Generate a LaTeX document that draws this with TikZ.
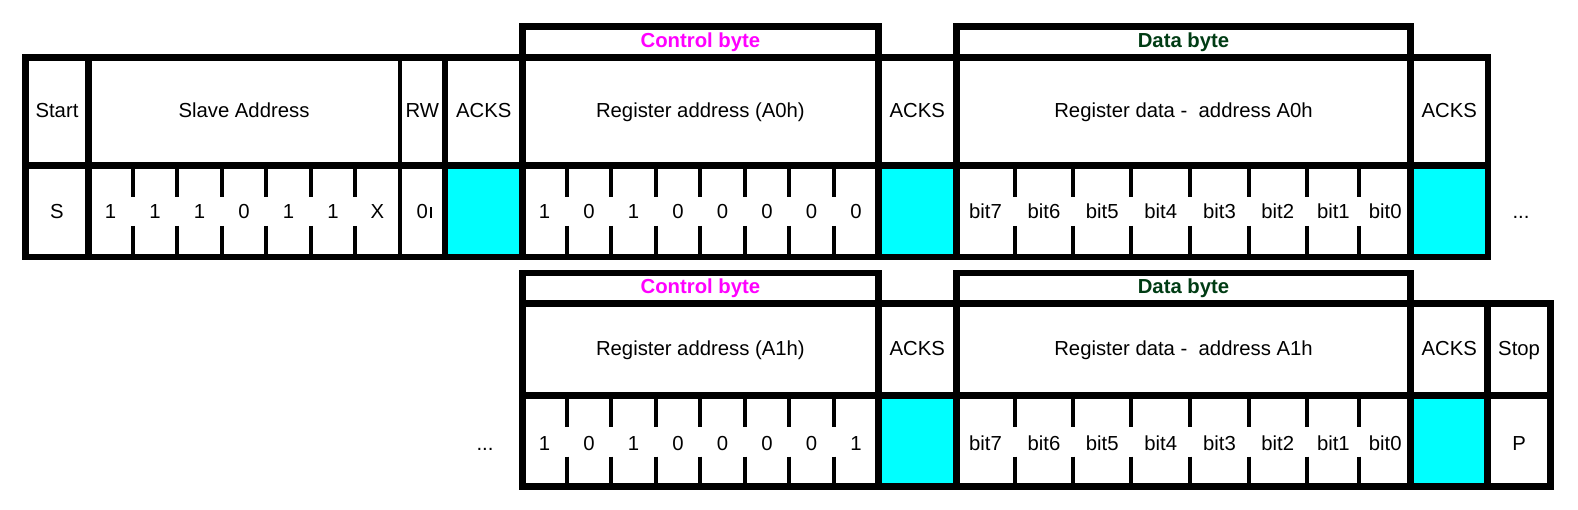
\documentclass[tikz,border=0pt]{standalone}
\usepackage{fontspec}
\setmainfont{Liberation Sans}
\definecolor{cyanfill}{RGB}{0,255,255}
\definecolor{ctrlmag}{RGB}{255,0,255}
\definecolor{datagreen}{RGB}{0,60,20}
\begin{document}
\begin{tikzpicture}[x=1pt,y=-1pt,
  thickln/.style={line width=6.7pt},
  thinln/.style={line width=4pt},
  tickln/.style={line width=4pt},
  lbl/.style={anchor=base,inner sep=0pt,font=\fontsize{20.3}{24}\selectfont},
  hdr/.style={anchor=base,inner sep=0pt,font=\fontsize{20.3}{24}\selectfont\bfseries}]
\useasboundingbox (0,0) rectangle (1578,510);
\fill[white] (0,0) rectangle (1578,510);

% ---------- cyan ACK cells ----------
\fill[cyanfill] (445,165.3) rectangle (522.4,257);
\fill[cyanfill] (878.4,165.3) rectangle (956.3,257);
\fill[cyanfill] (1410.7,165.3) rectangle (1488,257);
\fill[cyanfill] (878.4,395.3) rectangle (956.3,486.3);
\fill[cyanfill] (1410.7,395.3) rectangle (1487.7,486.3);

% ---------- row 1 frame ----------
\draw[thickln] (25.8,57.3) rectangle (1488,257);
\draw[thickln] (25.8,165.3) -- (1488,165.3);
\draw[thickln] (88.3,57.3) -- (88.3,257);
\draw[thinln] (399.7,57.3) -- (399.7,257);
\draw[thickln] (445,57.3) -- (445,257);
\draw[thickln] (522.4,26.7) rectangle (878.4,257);
\draw[thickln] (956.3,26.7) rectangle (1410.7,257);

% ---------- row 2 frame ----------
\draw[thickln] (522.4,303.3) rectangle (1550.5,486.3);
\draw[thickln] (522.4,395.3) -- (1550.5,395.3);
\draw[thickln] (522.4,273) rectangle (878.4,486.3);
\draw[thickln] (956.3,273) rectangle (1410.7,486.3);
\draw[thickln] (1487.7,303.3) -- (1487.7,486.3);

% ---------- bit ticks ----------
\foreach \x in {132.8,177.3,221.7,266.2,310.7,355.2,
                566.9,611.4,655.9,700.4,744.9,789.4,833.9,
                1014.8,1073.3,1131.3,1190.3,1248.7,1307,1359}{
  \draw[tickln] (\x,165.3) -- (\x,196.7);
  \draw[tickln] (\x,226) -- (\x,257);
}
\foreach \x in {566.9,611.4,655.9,700.4,744.9,789.4,833.9,
                1014.8,1073.3,1131.3,1190.3,1248.7,1307,1359}{
  \draw[tickln] (\x,395.3) -- (\x,426.7);
  \draw[tickln] (\x,456.7) -- (\x,486.3);
}

% ---------- row 1 texts ----------
\node[hdr,text=ctrlmag] (ctl1) at (700.4,48) {Control byte};
\node[hdr,text=datagreen] (dat1) at (1183.5,48) {Data byte};
\node[lbl] (start) at (57,117.3) {Start};
\node[lbl] (slave) at (244,117.3) {Slave Address};
\node[lbl] (rw) at (422.3,117.3) {RW};
\node[lbl] (acka) at (483.7,117.3) {ACKS};
\node[lbl] (rega) at (700.4,117.3) {Register address (A0h)};
\node[lbl] (ackb) at (917.3,117.3) {ACKS};
\node[lbl] (rdata) at (1183.5,117.3) {Register data -~ address A0h};
\node[lbl] (ackc) at (1449.3,117.3) {ACKS};

\node[lbl] (sbit) at (57,219) {S};
\foreach \x/\t [count=\i] in {110.5/1,155/1,199.5/1,244/0,288.5/1,333/1,377.4/X}{
  \node[lbl] (sa\i) at (\x,219) {\t};
}
\node[lbl] (rwbit) at (422.3,219) {0};
\draw[line width=2pt] (431,207.3) -- (431,218.3);
\foreach \x/\t [count=\i] in {544.6/1,589.1/0,633.6/1,678.1/0,722.6/0,767.1/0,811.6/0,856.1/0}{
  \node[lbl] (ca\i) at (\x,219) {\t};
}
\foreach \x/\t [count=\i] in {985.5/bit7,1044/bit6,1102.3/bit5,1160.8/bit4,1219.5/bit3,1277.8/bit2,1333.4/bit1,1385.3/bit0}{
  \node[lbl] (da\i) at (\x,219) {\t};
}
\node[lbl] (more1) at (1521,219) {...};

% ---------- row 2 texts ----------
\node[hdr,text=ctrlmag] (ctl2) at (700.4,294) {Control byte};
\node[hdr,text=datagreen] (dat2) at (1183.5,294) {Data byte};
\node[lbl] (regb) at (700.4,355.6) {Register address (A1h)};
\node[lbl] (ackd) at (917.3,355.6) {ACKS};
\node[lbl] (rdatb) at (1183.5,355.6) {Register data -~ address A1h};
\node[lbl] (acke) at (1449.2,355.6) {ACKS};
\node[lbl] (stop) at (1519.1,355.6) {Stop};

\node[lbl] (more2) at (485,450) {...};
\foreach \x/\t [count=\i] in {544.6/1,589.1/0,633.6/1,678.1/0,722.6/0,767.1/0,811.6/0,856.1/1}{
  \node[lbl] (cb\i) at (\x,450) {\t};
}
\foreach \x/\t [count=\i] in {985.5/bit7,1044/bit6,1102.3/bit5,1160.8/bit4,1219.5/bit3,1277.8/bit2,1333.4/bit1,1385.3/bit0}{
  \node[lbl] (db\i) at (\x,450) {\t};
}
\node[lbl] (pbit) at (1519.1,450) {P};
\end{tikzpicture}
\end{document}
